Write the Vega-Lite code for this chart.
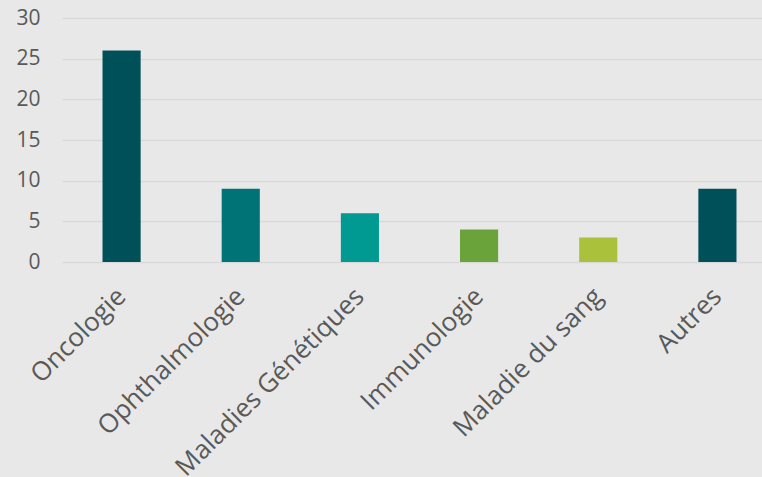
{
  "$schema": "https://vega.github.io/schema/vega-lite/v6.json",
  "autosize": "none",
  "width": 715,
  "height": 244,
  "padding": {"left": 62, "top": 18, "right": 0, "bottom": 215},
  "background": "#e8e8e8",
  "config": {
    "view": {"stroke": null},
    "font": "Open Sans"
  },
  "data": {
    "values": [
      {"categorie": "Oncologie", "valeur": 26},
      {"categorie": "Ophthalmologie", "valeur": 9},
      {"categorie": "Maladies Génétiques", "valeur": 6},
      {"categorie": "Immunologie", "valeur": 4},
      {"categorie": "Maladie du sang", "valeur": 3},
      {"categorie": "Autres", "valeur": 9}
    ]
  },
  "mark": {"type": "bar"},
  "encoding": {
    "x": {
      "field": "categorie",
      "type": "nominal",
      "sort": null,
      "scale": {"paddingInner": 0.68, "paddingOuter": 0.34},
      "axis": {
        "title": null,
        "labelAngle": -45,
        "labelAlign": "right",
        "labelBaseline": "middle",
        "labelFontSize": 26,
        "labelColor": "#595959",
        "labelPadding": 30,
        "labelLimit": 400,
        "labelOverlap": false,
        "domain": false,
        "ticks": false
      }
    },
    "y": {
      "field": "valeur",
      "type": "quantitative",
      "scale": {"domain": [0, 30]},
      "axis": {
        "title": null,
        "values": [0, 5, 10, 15, 20, 25, 30],
        "labelFontSize": 21,
        "labelColor": "#595959",
        "labelPadding": 22,
        "domain": false,
        "ticks": false,
        "gridColor": "#d9d9d9",
        "gridWidth": 1.5
      }
    },
    "color": {
      "field": "categorie",
      "type": "nominal",
      "scale": {
        "domain": ["Oncologie", "Ophthalmologie", "Maladies Génétiques", "Immunologie", "Maladie du sang", "Autres"],
        "range": ["#00505a", "#007377", "#009a93", "#6aa339", "#aac23b", "#00505a"]
      },
      "legend": null
    }
  }
}
